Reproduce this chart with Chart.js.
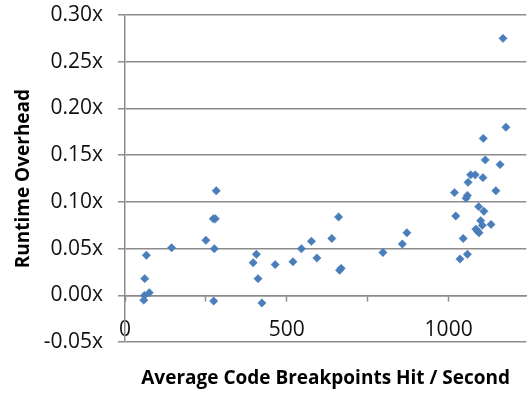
<!DOCTYPE html>
<html>
<head>
<meta charset="utf-8">
<title>Runtime Overhead</title>
<script src="https://cdn.jsdelivr.net/npm/chart.js@4.4.1/dist/chart.umd.min.js"></script>
<style>
    html, body { margin: 0; padding: 0; background: #fff; }
    #wrap { width: 531px; height: 393px; position: relative; }
</style>
</head>
<body>
<div id="wrap"><canvas id="overhead-chart"></canvas></div>
<script>
// values
const breakpointsPerSec = [
    60, 58, 75, 61, 66, 144, 250, 273, 279, 276, 274, 282,
    406, 396, 411, 423, 464, 519, 545, 576, 593, 639, 660, 663, 668,
    797, 857, 871,
    1018, 1022, 1035, 1045, 1054, 1058, 1058, 1060, 1068, 1082, 1084, 1089,
    1094, 1093, 1099, 1104, 1106, 1107, 1109, 1113, 1131, 1146, 1159, 1168, 1177
];
const runtimeOverhead = [
    0.000, -0.005, 0.003, 0.018, 0.043, 0.051, 0.059, 0.082, 0.082, 0.050, -0.006, 0.112,
    0.044, 0.035, 0.018, -0.008, 0.033, 0.036, 0.050, 0.058, 0.040, 0.061, 0.084, 0.027, 0.029,
    0.046, 0.055, 0.067,
    0.110, 0.085, 0.039, 0.061, 0.104, 0.107, 0.044, 0.121, 0.129, 0.129, 0.071, 0.069,
    0.067, 0.095, 0.080, 0.075, 0.126, 0.168, 0.090, 0.145, 0.076, 0.112, 0.140, 0.275, 0.180
];
const xTicks = [0, 250, 500, 750, 1000];
const xTickLabels = [0, 500, 1000];
const yTicks = [-0.05, 0, 0.05, 0.10, 0.15, 0.20, 0.25, 0.30];

const gridGray = '#8c8c8c';

function buildPoints() {
    return breakpointsPerSec.map(function (x, i) {
        return { x: x, y: runtimeOverhead[i] };
    });
}

function createOverheadChart() {
    const ctx = document.getElementById('overhead-chart').getContext('2d');

    const chart = new Chart(ctx, {
        type: 'scatter',
        data: {
            datasets: [{
                label: 'Runtime Overhead',
                data: buildPoints(),
                pointStyle: 'rectRot',
                pointRadius: 4.2,
                pointHoverRadius: 4.2,
                backgroundColor: '#4a7ebb',
                borderColor: '#4a7ebb',
                borderWidth: 0.5
            }]
        },
        options: {
            responsive: true,
            maintainAspectRatio: false,
            animation: false,
            layout: {
                padding: { top: 15, right: 0, left: 0, bottom: 0 }
            },
            plugins: {
                legend: { display: false },
                tooltip: { enabled: false },
                title: {
                    display: true,
                    position: 'bottom',
                    fullSize: false,
                    text: 'Average Code Breakpoints Hit / Second',
                    color: '#000',
                    font: { family: 'Open Sans', size: 19, weight: 'bold' },
                    padding: { top: 25, bottom: 3 }
                }
            },
            scales: {
                x: {
                    type: 'linear',
                    position: { y: 0 },
                    min: 0,
                    max: 1240,
                    afterBuildTicks: function (scale) {
                        scale.ticks = xTicks.map(function (v) { return { value: v }; });
                    },
                    grid: {
                        drawOnChartArea: false,
                        drawTicks: true,
                        tickLength: 5,
                        tickColor: gridGray,
                        tickWidth: 1.5
                    },
                    border: { display: true, color: gridGray, width: 1.5 },
                    ticks: {
                        autoSkip: false,
                        maxRotation: 0,
                        padding: 17,
                        color: '#111',
                        font: { family: 'Open Sans', size: 21 },
                        callback: function (value) {
                            return xTickLabels.indexOf(value) >= 0 ? String(value) : '';
                        }
                    }
                },
                y: {
                    min: -0.05,
                    max: 0.30,
                    afterBuildTicks: function (scale) {
                        scale.ticks = yTicks.map(function (v) { return { value: v }; });
                    },
                    afterFit: function (scale) {
                        scale.width = 125;
                        // let the top and bottom labels hang over the edges
                        scale.paddingTop = 0;
                        scale.paddingBottom = 0;
                    },
                    grid: {
                        color: gridGray,
                        lineWidth: 1.5,
                        tickLength: 7,
                        tickColor: gridGray
                    },
                    border: { display: true, color: gridGray, width: 1.5 },
                    ticks: {
                        padding: 15,
                        color: '#111',
                        font: { family: 'Open Sans', size: 21 },
                        callback: function (value) {
                            return value.toFixed(2) + 'x';
                        }
                    },
                    title: {
                        display: true,
                        text: 'Runtime Overhead',
                        color: '#000',
                        font: { family: 'Open Sans', size: 19, weight: 'bold' },
                        padding: { top: 12, bottom: 0 }
                    }
                }
            }
        }
    });
}

createOverheadChart();
</script>
</body>
</html>
